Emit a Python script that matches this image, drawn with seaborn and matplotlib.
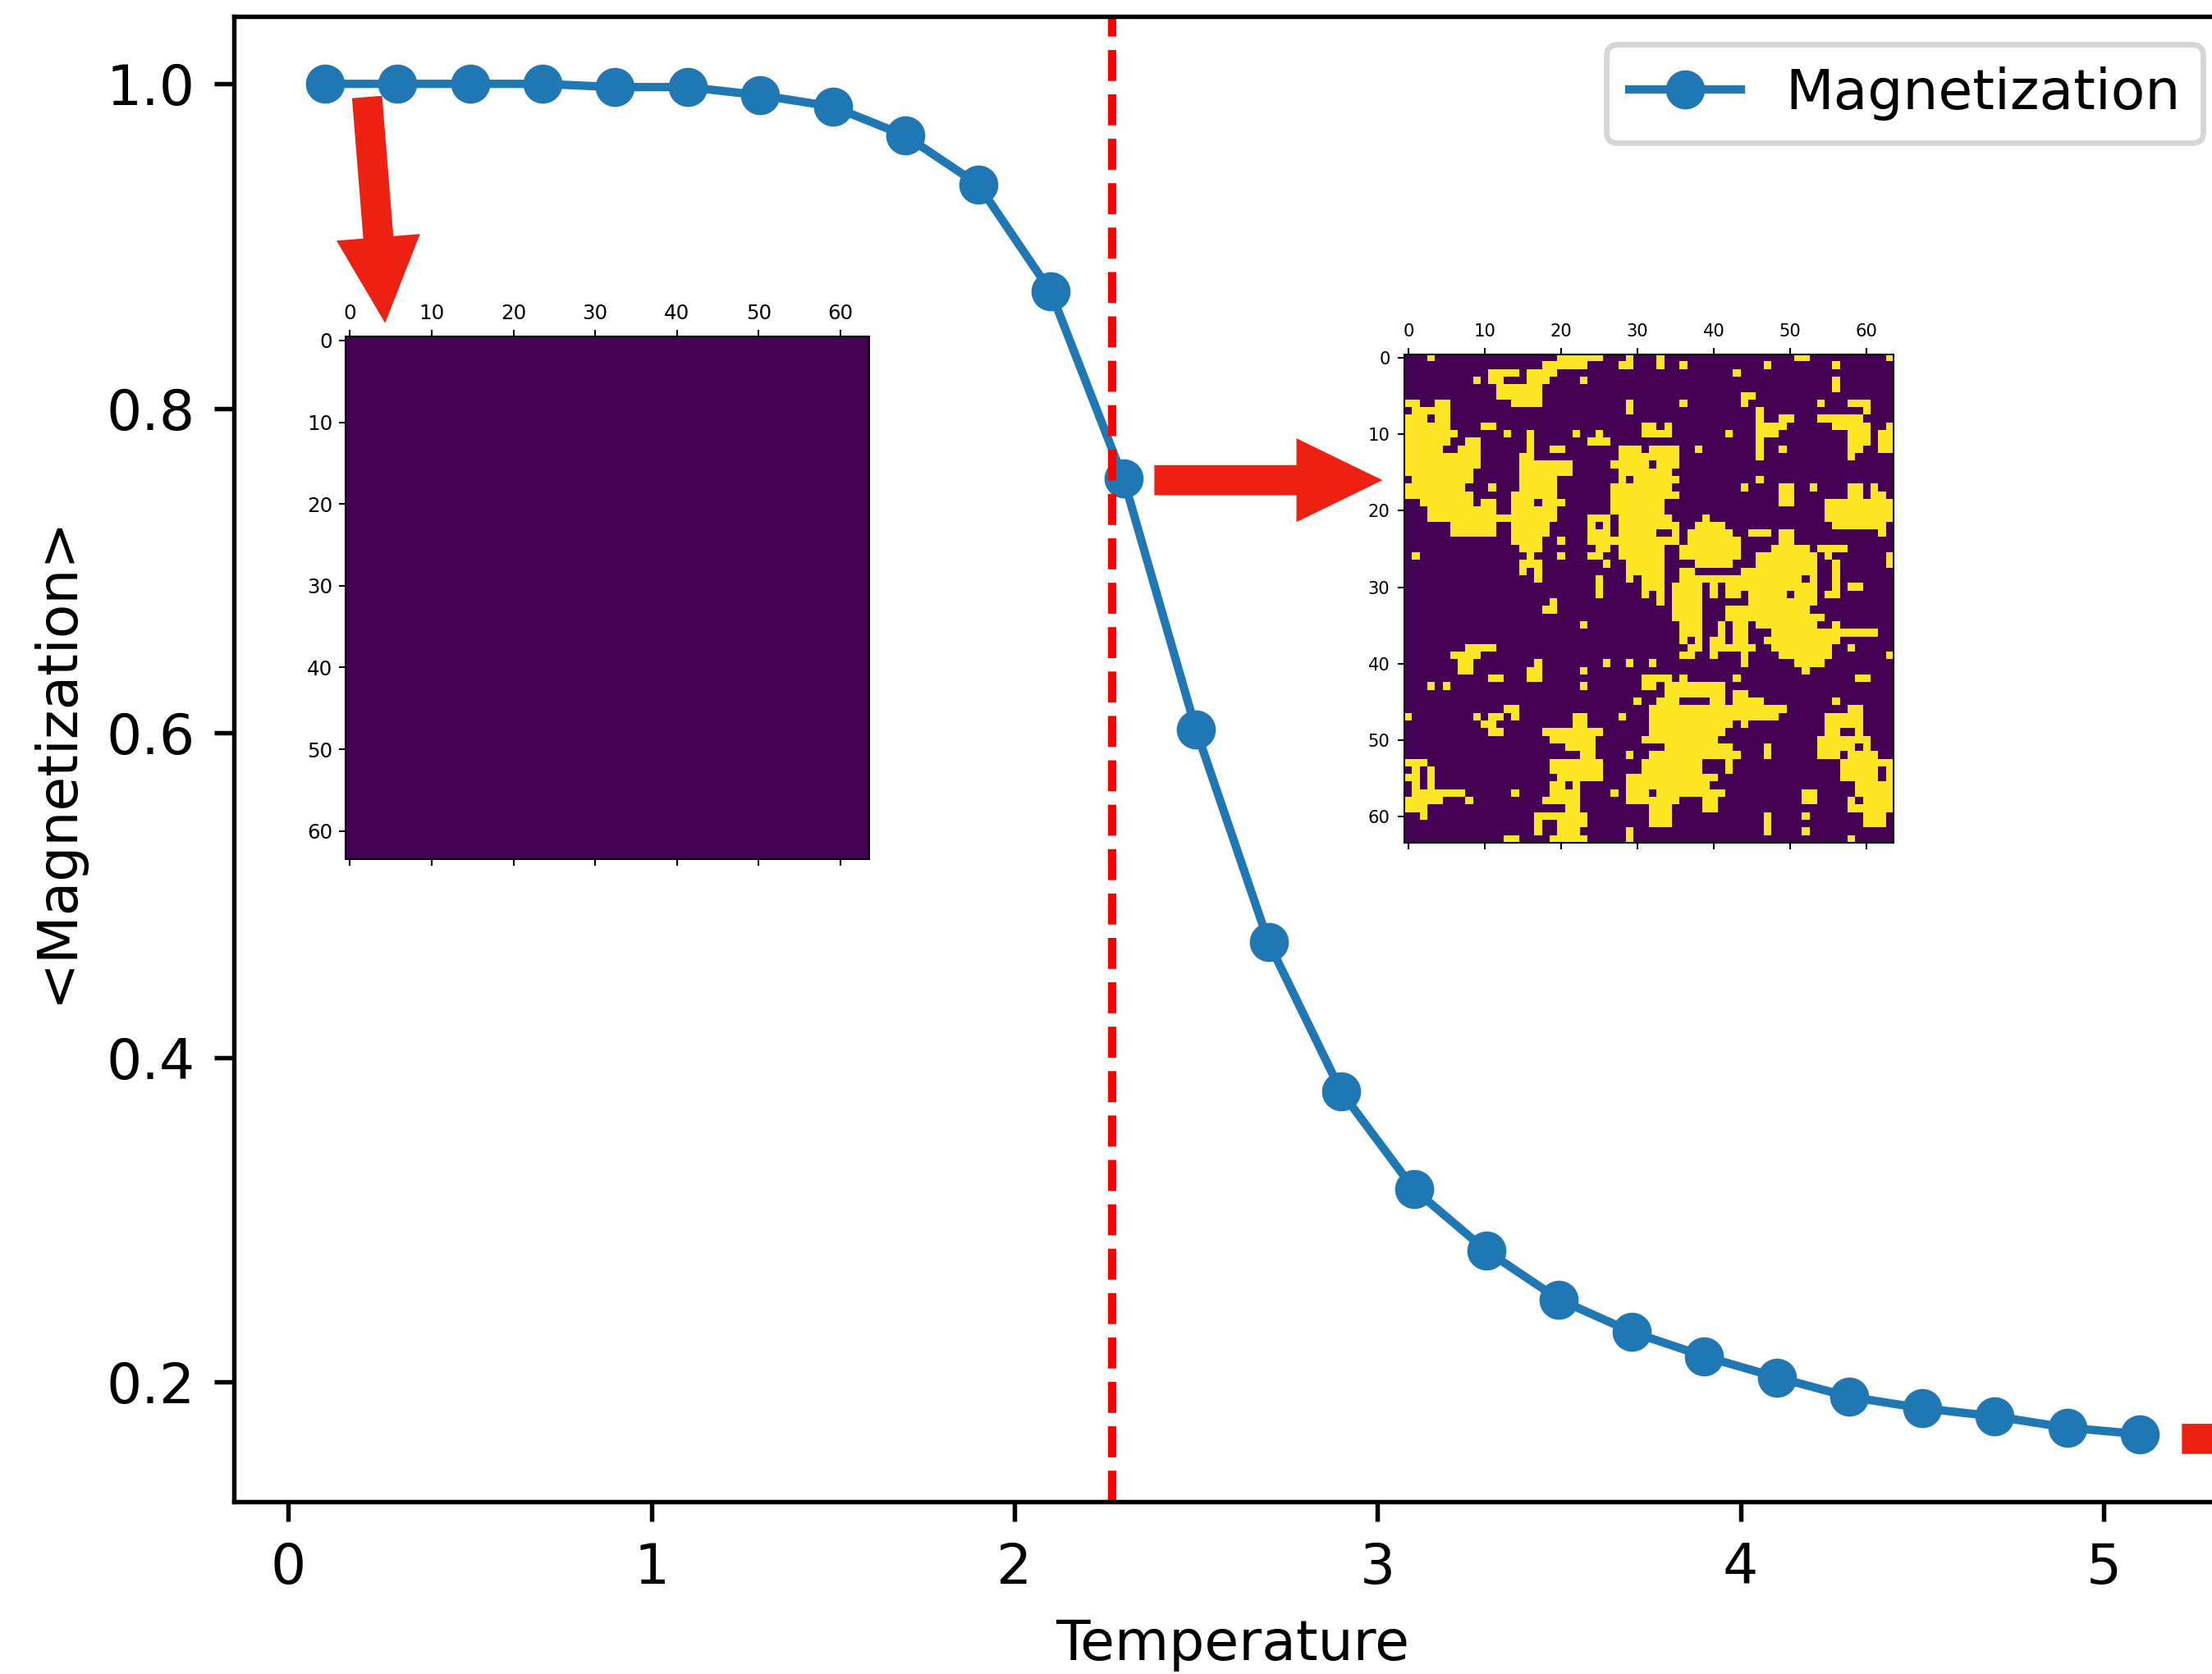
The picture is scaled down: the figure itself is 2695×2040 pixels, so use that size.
import numpy as np
import pandas as pd
import matplotlib
matplotlib.use("Agg")
import matplotlib.pyplot as plt
import seaborn as sns

# ---------------- data ----------------
temperature = [0.1, 0.3, 0.5, 0.7, 0.9, 1.1, 1.3, 1.5, 1.7, 1.9, 2.1, 2.3, 2.5,
               2.7, 2.9, 3.1, 3.3, 3.5, 3.7, 3.9, 4.1, 4.3, 4.5, 4.7, 4.9, 5.1]
magnetization = [1.000, 1.000, 1.000, 1.000, 0.998, 0.998, 0.993, 0.986, 0.968,
                 0.938, 0.872, 0.757, 0.602, 0.471, 0.379, 0.319, 0.281, 0.251,
                 0.231, 0.216, 0.203, 0.191, 0.184, 0.179, 0.172, 0.168]
critical_temperature = 2.269
x_ticks = [0, 1, 2, 3, 4, 5]
y_ticks = [0.2, 0.4, 0.6, 0.8, 1.0]
series_label = "Magnetization"
x_label = "Temperature"
y_label = "<Magnetization>"

lattice_size = 64
# low temperature snapshot: every spin down (no up-spin runs)
low_t_up_runs = [[] for _ in range(lattice_size)]
# near-Tc snapshot: runs (first col, last col) of up spins per row
high_t_up_runs = [
    [(3, 3), (20, 25), (29, 29), (33, 33), (51, 52), (63, 63)],
    [(18, 23), (28, 29), (33, 33), (36, 36), (47, 47), (56, 56)],
    [(11, 14), (16, 19), (43, 43)],
    [(9, 9), (11, 12), (16, 18), (23, 23), (56, 56)],
    [(12, 17), (56, 56)],
    [(12, 17), (44, 45)],
    [(0, 1), (4, 5), (14, 17), (29, 29), (36, 36), (44, 44), (54, 54), (58, 60)],
    [(1, 5), (29, 29), (46, 46), (60, 60)],
    [(0, 2), (4, 5), (46, 46), (49, 50), (54, 59)],
    [(0, 5), (10, 11), (31, 32), (34, 34), (46, 49), (56, 60), (63, 63)],
    [(0, 6), (13, 13), (16, 16), (22, 22), (25, 25), (31, 34), (42, 42), (46, 48), (58, 60), (62, 63)],
    [(0, 5), (8, 9), (16, 16), (24, 26), (46, 46), (58, 60), (62, 63)],
    [(0, 4), (7, 9), (16, 16), (19, 20), (28, 30), (32, 35), (38, 38), (46, 46), (49, 49), (58, 59), (62, 63)],
    [(0, 9), (15, 16), (28, 35), (46, 46), (58, 58)],
    [(0, 9), (15, 21), (27, 31), (33, 35)],
    [(0, 8), (15, 21), (28, 34)],
    [(1, 8), (15, 19), (28, 28), (30, 35), (46, 46)],
    [(0, 7), (11, 11), (15, 19), (27, 34), (44, 44), (49, 50), (53, 53), (58, 59), (61, 61)],
    [(0, 8), (14, 19), (27, 35), (49, 50), (58, 59), (61, 62)],
    [(2, 8), (10, 11), (14, 16), (18, 20), (27, 33), (49, 50), (55, 63)],
    [(3, 11), (14, 19), (27, 33), (55, 63)],
    [(3, 19), (24, 26), (28, 34), (39, 39), (55, 63)],
    [(6, 11), (14, 18), (24, 24), (26, 26), (28, 35), (38, 41), (56, 62)],
    [(6, 11), (14, 18), (24, 26), (28, 32), (35, 35), (37, 42), (45, 47), (49, 50), (62, 62)],
    [(14, 17), (20, 20), (24, 35), (37, 43), (49, 50)],
    [(15, 17), (25, 26), (28, 33), (36, 43), (48, 52), (54, 57)],
    [(1, 1), (16, 16), (20, 20), (24, 25), (28, 33), (36, 43), (46, 53), (55, 55), (63, 63)],
    [(15, 17), (26, 26), (29, 33), (38, 42), (46, 53), (56, 56), (63, 63)],
    [(15, 15), (17, 17), (29, 33), (36, 37), (44, 53), (56, 56)],
    [(17, 17), (25, 25), (29, 29), (31, 33), (36, 51), (53, 53), (56, 56)],
    [(25, 25), (31, 33), (35, 38), (40, 40), (42, 53), (56, 56), (58, 59)],
    [(25, 25), (31, 31), (33, 33), (35, 38), (40, 40), (42, 43), (45, 49), (51, 53), (55, 56)],
    [(19, 19), (33, 33), (35, 38), (45, 53)],
    [(18, 19), (35, 38), (42, 52)],
    [(35, 38), (42, 54)],
    [(23, 23), (36, 38), (41, 41), (43, 44), (46, 53), (56, 56)],
    [(36, 38), (41, 41), (43, 44), (48, 61)],
    [(36, 36), (38, 38), (40, 41), (43, 44), (47, 56)],
    [(8, 11), (37, 38), (40, 45), (48, 55), (58, 58)],
    [(6, 9), (36, 37), (40, 40), (44, 44), (49, 55), (63, 63)],
    [(7, 8), (17, 17), (26, 26), (29, 29), (32, 32), (44, 44), (51, 54)],
    [(7, 8), (16, 17), (23, 23), (52, 52)],
    [(11, 12), (16, 17), (31, 34), (36, 36), (43, 43), (59, 60)],
    [(3, 3), (5, 5), (23, 23), (31, 32), (34, 41)],
    [(34, 41), (43, 44)],
    [(30, 30), (33, 35), (40, 41), (43, 46), (56, 56)],
    [(13, 14), (32, 49), (58, 59)],
    [(0, 0), (9, 9), (11, 12), (14, 14), (22, 23), (28, 28), (32, 48), (55, 59)],
    [(10, 11), (22, 23), (32, 42), (44, 44), (55, 59)],
    [(11, 12), (18, 25), (32, 41), (55, 56), (59, 59)],
    [(19, 24), (31, 40), (54, 60)],
    [(21, 24), (34, 42), (47, 47), (54, 58), (60, 60)],
    [(23, 24), (29, 29), (32, 43), (47, 47), (54, 56), (58, 61)],
    [(0, 2), (19, 25), (31, 38), (42, 42), (57, 63)],
    [(1, 1), (3, 3), (19, 25), (31, 38), (42, 42), (57, 61), (63, 63)],
    [(0, 1), (3, 3), (20, 25), (29, 40), (57, 61), (63, 63)],
    [(1, 1), (3, 3), (19, 20), (22, 22), (29, 39), (59, 63)],
    [(1, 7), (14, 14), (19, 22), (27, 27), (29, 31), (33, 41), (52, 53), (59, 63)],
    [(0, 4), (8, 8), (18, 22), (29, 35), (39, 40), (52, 53), (58, 58), (60, 63)],
    [(0, 2), (21, 22), (32, 34), (39, 40), (58, 63)],
    [(2, 2), (17, 23), (32, 34), (47, 47), (52, 52), (60, 62)],
    [(17, 17), (20, 23), (32, 34), (47, 47), (60, 62)],
    [(17, 17), (20, 22), (29, 29), (47, 47), (52, 52)],
    [(13, 14), (19, 23), (29, 29), (58, 58)],
]

# arrows (tail T, tail M) -> (tip T, tip M)
arrow_low = ((0.2167, 0.9919), (0.2665, 0.8526))
arrow_mid = ((2.3853, 0.7558), (3.0136, 0.7558))
arrow_high = ((5.2156, 0.1651), (5.90, 0.1651))


def build_lattice(runs):
    grid = -np.ones((lattice_size, lattice_size))
    for r, row in enumerate(runs):
        for a, b in row:
            grid[r, a:b + 1] = 1
    return grid


# ---------------- figure ----------------
DPI = 490
fig = plt.figure(figsize=(2695 / DPI, 2040 / DPI), dpi=DPI)
fig.patch.set_facecolor("white")

ax = fig.add_axes([0.10575, 0.10294, 0.9027, 0.8873])
df = pd.DataFrame({"Temperature": temperature, "Magnetization": magnetization})
blue = "#1f77b4"
sns.lineplot(data=df, x="Temperature", y="Magnetization", ax=ax,
             color=blue, linewidth=1.5, marker="o", markersize=6,
             markeredgewidth=1, markeredgecolor=blue, label=series_label)
ax.axvline(critical_temperature, color="red", linestyle="--", linewidth=1.5)
ax.set_xticks(x_ticks)
ax.set_yticks(y_ticks)
ax.set_xlabel(x_label)
ax.set_ylabel(y_label)
ax.legend(loc="upper right")

red = "#ec2111"
arrow_props = dict(facecolor=red, edgecolor="none", width=5.4,
                   headwidth=15.0, headlength=15.4, shrink=0.0)
for (tail, tip) in (arrow_low, arrow_mid, arrow_high):
    ax.annotate("", xy=tip, xytext=tail, xycoords="data", textcoords="data",
                arrowprops=arrow_props, annotation_clip=False, zorder=5)

# ---------------- insets ----------------
def add_inset(rect, grid, labelsize, pad):
    iax = fig.add_axes(rect)
    iax.matshow(grid, cmap="viridis")
    iax.tick_params(labelsize=labelsize, length=1.2, width=0.3, pad=pad)
    for s in iax.spines.values():
        s.set_linewidth(0.3)
    return iax

add_inset([0.15633, 0.48652, 0.23659, 0.3125], build_lattice(low_t_up_runs), 3.6, 1.2)
add_inset([0.63488, 0.49642, 0.22115, 0.29196], build_lattice(high_t_up_runs), 3.1, 1.4)

fig.savefig("out.png", dpi=DPI)
